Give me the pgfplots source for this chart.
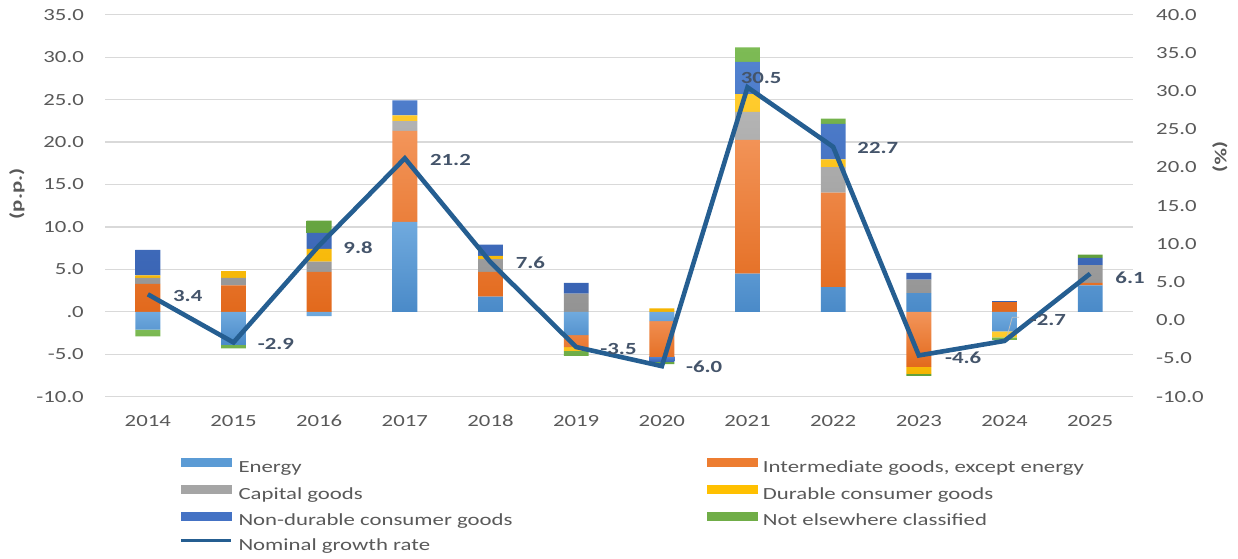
\documentclass[border=0pt]{standalone}
\usepackage{pgfplots}
\pgfplotsset{compat=1.18}
\usepackage{pgfplotstable}
\usepackage{fontspec}
\setmainfont[FakeStretch=1.34]{Carlito}

\definecolor{cTxt}{HTML}{595959}
\definecolor{cLab}{HTML}{44546A}
\definecolor{cGrid}{HTML}{D9D9D9}
\definecolor{cLine}{HTML}{255E91}
\definecolor{cE}{HTML}{5B9BD5}
\definecolor{cEt}{HTML}{70AADE}
\definecolor{cEb}{HTML}{4A8AC8}
\definecolor{cI}{HTML}{ED7D31}
\definecolor{cIt}{HTML}{F3955A}
\definecolor{cIb}{HTML}{E2691C}
\definecolor{cC}{HTML}{A5A5A5}
\definecolor{cCt}{HTML}{B4B4B4}
\definecolor{cCb}{HTML}{939393}
\definecolor{cD}{HTML}{FFC000}
\definecolor{cDt}{HTML}{FFCC2E}
\definecolor{cDb}{HTML}{F5B400}
\definecolor{cN}{HTML}{4472C4}
\definecolor{cNt}{HTML}{5282D0}
\definecolor{cNb}{HTML}{3862B2}
\definecolor{cX}{HTML}{70AD47}
\definecolor{cXt}{HTML}{7DBB55}
\definecolor{cXb}{HTML}{62A03C}

% positive contributions (p.p.)
\pgfplotstableread{
x E I C D N X
0 0 3.3 0.7 0.3 3.0 0
1 0 3.1 0.9 0.8 0 0
2 0 4.7 1.2 1.5 1.9 1.45
3 10.6 10.7 1.15 0.7 1.75 0
4 1.8 2.9 1.5 0.4 1.3 0
5 0 0 2.15 0 1.25 0
6 0 0 0 0.4 0 0
7 4.5 15.75 3.3 2.1 3.8 1.7
8 2.9 11.15 3.0 0.9 4.2 0.6
9 2.2 0 1.6 0 0.8 0
10 0 1.15 0 0 0.1 0
11 3.1 0.3 2.1 0 0.85 0.4
}\pos

% negative contributions (p.p.)
\pgfplotstableread{
x E I C D N X
0 -2.1 0 0 0 0 -0.8
1 -3.9 0 0 0 0 -0.4
2 -0.5 0 0 0 0 0
3 0 0 0 0 0 0
4 0 0 0 0 0 0
5 -2.75 -1.4 0 -0.45 0 -0.6
6 -1.1 -4.2 0 0 -0.6 -0.25
7 0 0 0 0 0 0
8 0 0 0 0 0 0
9 0 -6.5 0 -0.8 0 -0.25
10 -2.3 0 0 -0.7 0 -0.3
11 0 0 0 0 0 0
}\neg

% nominal growth rate (%)
\pgfplotstableread{
x y dx dy
0 3.4 23 -2
1 -2.9 22 -2
2 9.8 22 -2
3 21.2 23 -2
4 7.6 23 -1
5 -3.5 22 -2
6 -6.0 22 -1
7 30.5 -9 9
8 22.7 22 -1
9 -4.6 24 -2
10 -2.7 23 21
11 6.1 23 -4
}\grow

\pgfplotsset{
  base/.style={
    scale only axis, width=1028bp, height=382bp,
    xmin=-0.5, xmax=11.5,
    at={(105bp,162.3bp)}, anchor=south west,
    font=\fontsize{17bp}{20bp}\selectfont,
  },
  bars/.style={ybar stacked, bar width=0.29, ymin=-10, ymax=35},
}

\begin{document}
\begin{tikzpicture}[font=\fontsize{17bp}{20bp}\selectfont]
\path[use as bounding box] (0,0) rectangle (1238bp,559bp);

% positive parts + grid + left axis
\begin{axis}[base, bars,
  ytick={-10,-5,0,5,10,15,20,25,30,35},
  yticklabels={-10.0,-5.0,.0,5.0,10.0,15.0,20.0,25.0,30.0,35.0},
  xtick={0,1,2,3,4,5,6,7,8,9,10,11},
  xticklabels={2014,2015,2016,2017,2018,2019,2020,2021,2022,2023,2024,2025},
  ymajorgrids, grid style={color=cGrid, line width=1.2bp},
  axis line style={draw=none}, major tick length=0pt,
  yticklabel style={anchor=east, xshift=-21bp, inner sep=0pt, text=cTxt},
  xticklabel style={anchor=center, yshift=-24bp, inner sep=0pt, text=cTxt},
  ylabel={(p.p.)},
  every axis y label/.style={at={(axis description cs:-0.0856,0.531)}, rotate=90, anchor=center, font=\fontsize{17bp}{20bp}\selectfont\bfseries, text=cTxt},
]
\addplot[draw=none, top color=cEt, bottom color=cEb] table[x=x,y=E]{\pos};
\addplot[draw=none, top color=cIt, bottom color=cIb] table[x=x,y=I]{\pos};
\addplot[draw=none, top color=cCt, bottom color=cCb] table[x=x,y=C]{\pos};
\addplot[draw=none, top color=cDt, bottom color=cDb] table[x=x,y=D]{\pos};
\addplot[draw=none, top color=cNt, bottom color=cNb] table[x=x,y=N]{\pos};
\addplot[draw=none, top color=cXt, bottom color=cXb] table[x=x,y=X]{\pos};
\end{axis}

% negative parts
\begin{axis}[base, bars, hide axis]
\addplot[draw=none, top color=cEt, bottom color=cEb] table[x=x,y=E]{\neg};
\addplot[draw=none, top color=cIt, bottom color=cIb] table[x=x,y=I]{\neg};
\addplot[draw=none, top color=cCt, bottom color=cCb] table[x=x,y=C]{\neg};
\addplot[draw=none, top color=cDt, bottom color=cDb] table[x=x,y=D]{\neg};
\addplot[draw=none, top color=cNt, bottom color=cNb] table[x=x,y=N]{\neg};
\addplot[draw=none, top color=cXt, bottom color=cXb] table[x=x,y=X]{\neg};
\end{axis}

% growth line, right axis, legend
\begin{axis}[base, ymin=-10, ymax=40, clip=false,
  axis y line*=right, axis x line=none,
  axis line style={draw=none}, major tick length=0pt,
  ytick={-10,-5,0,5,10,15,20,25,30,35,40},
  yticklabels={-10.0,-5.0,0.0,5.0,10.0,15.0,20.0,25.0,30.0,35.0,40.0},
  yticklabel style={anchor=west, xshift=23bp, inner sep=0pt, text=cTxt},
  ylabel={(\%)},
  every axis y label/.style={at={(axis description cs:1.0846,0.6275)}, rotate=-90, anchor=center, font=\fontsize{17bp}{20bp}\selectfont\bfseries, text=cTxt},
  legend columns=2,
  legend cell align=left,
  legend style={at={(axis description cs:0.0720,-0.1613)}, anchor=north west,
    draw=none, fill=none, inner sep=0pt, outer sep=0pt,
    font=\fontsize{17bp}{20bp}\selectfont, text=cTxt,
    nodes={inner sep=0pt, text height=12bp, text depth=4bp},
    row sep=8.5bp,
    /tikz/every odd column/.style={column sep=6bp},
    /tikz/every even column/.style={column sep=0bp}},
]
\addlegendimage{legend image code/.code={\fill[cE] (0bp,2bp) rectangle (50bp,10bp);}}
\addlegendentry{\makebox[468bp][l]{Energy}}
\addlegendimage{legend image code/.code={\fill[cI] (0bp,2bp) rectangle (50bp,10bp);}}
\addlegendentry{Intermediate goods, except energy}
\addlegendimage{legend image code/.code={\fill[cC] (0bp,2bp) rectangle (50bp,10bp);}}
\addlegendentry{\makebox[468bp][l]{Capital goods}}
\addlegendimage{legend image code/.code={\fill[cD] (0bp,2bp) rectangle (50bp,10bp);}}
\addlegendentry{Durable consumer goods}
\addlegendimage{legend image code/.code={\fill[cN] (0bp,2bp) rectangle (50bp,10bp);}}
\addlegendentry{\makebox[468bp][l]{Non-durable consumer goods}}
\addlegendimage{legend image code/.code={\fill[cX] (0bp,2bp) rectangle (50bp,10bp);}}
\addlegendentry{Not elsewhere classified}
\addlegendimage{legend image code/.code={\draw[cLine, line width=3.5bp] (0bp,6bp) -- (50bp,6bp);}}
\addlegendentry{\makebox[468bp][l]{Nominal growth rate}}

\draw[color=black!25, line width=0.8bp] (axis cs:10.17,0.39) -- (axis cs:10.09,0.39) -- (axis cs:10.02,-2.5);

\addplot[forget plot, color=cLine, line width=4.6bp, mark=none, line join=miter,
  visualization depends on={\thisrow{dx}\as\dx},
  visualization depends on={\thisrow{dy}\as\dy},
  point meta=y,
  nodes near coords={\pgfmathprintnumber[fixed,fixed zerofill,precision=1,assume math mode=true]{\pgfplotspointmeta}},
  nodes near coords style={anchor=west, xshift=\dx bp, yshift=\dy bp, inner sep=0pt,
    font=\fontsize{17bp}{20bp}\selectfont\bfseries, text=cLab},
] table[x=x,y=y]{\grow};
\end{axis}
\end{tikzpicture}
\end{document}
